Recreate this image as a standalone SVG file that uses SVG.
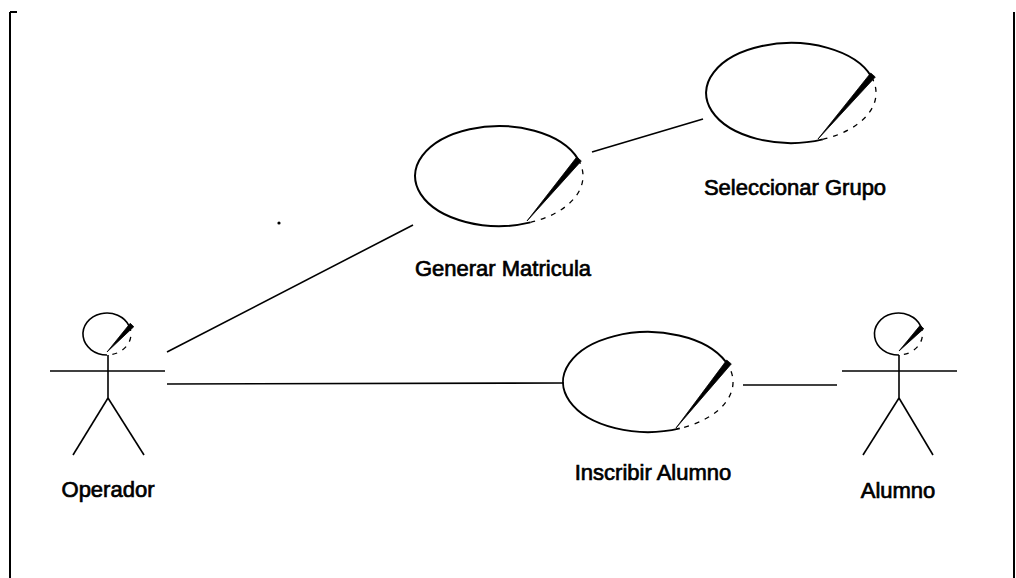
<svg xmlns="http://www.w3.org/2000/svg" width="1016" height="578" viewBox="0 0 1016 578">
<style>
.bg{fill:#ffffff}
.frame{stroke:#000;stroke-width:2;fill:none}
.uc{stroke:#000;stroke-width:2;fill:none}
.dash{stroke:#000;stroke-width:1.3;fill:none;stroke-dasharray:5 6}
.stick{stroke:#000;stroke-width:1.6;fill:none}
.slash{fill:#000;stroke:#000;stroke-width:0.8;stroke-linejoin:round}
.conn{stroke:#000;stroke-width:1.6;fill:none}
.lbl{font-family:"Liberation Sans",Arial,sans-serif;font-size:22px;fill:#000;stroke:#000;stroke-width:0.7;text-anchor:middle}
</style>
<rect class="bg" x="0" y="0" width="1016" height="578"/>
<g id="frame">
<line class="frame" x1="10" y1="12" x2="10" y2="578"/>
<line class="frame" x1="10" y1="12" x2="17" y2="12"/>
<line class="frame" x1="1014" y1="12" x2="1014" y2="578"/>
<circle cx="279" cy="223" r="1.6" fill="#000"/>
</g>
<g id="connectors">
<line class="conn" x1="167" y1="352" x2="413" y2="225"/>
<line class="conn" x1="592" y1="152" x2="703" y2="119"/>
<line class="conn" x1="167" y1="384" x2="564" y2="383"/>
<line class="conn" x1="743" y1="385" x2="837" y2="385"/>
</g>
<g id="uc-generar">
<path class="uc" d="M530.5,222.4 A84,50 0 1 1 578.1,159.2"/>
<path class="dash" d="M578.1,159.2 A84,50 0 0 1 530.5,222.4"/>
<polygon class="slash" points="527,221 576.7,157.1 581.3,160.9"/>
<text class="lbl" x="503" y="276">Generar Matricula</text>
</g>
<g id="uc-seleccionar">
<path class="uc" d="M822.8,139.4 A85,50 0 1 1 871.4,76.7"/>
<path class="dash" d="M871.4,76.7 A85,50 0 0 1 822.8,139.4"/>
<polygon class="slash" points="818,139 870.7,73 875.3,77"/>
<text class="lbl" x="795" y="195">Seleccionar Grupo</text>
</g>
<g id="uc-inscribir">
<path class="uc" d="M679.8,428.4 A85,50 0 1 1 725.7,361.7"/>
<path class="dash" d="M725.7,361.7 A85,50 0 0 1 679.8,428.4"/>
<polygon class="slash" points="676,428 726.7,360.1 731.3,363.9"/>
<text class="lbl" x="653" y="480">Inscribir Alumno</text>
</g>
<g id="actor-operador">
<path class="stick" d="M107,355 A24,21 0 1 1 129.2,326.1"/>
<path class="dash" stroke-dasharray="2 6" d="M129.2,326.1 A24,21 0 0 1 107,355"/>
<polygon class="slash" points="107,352 130.2,323.3 133.8,326.7"/>
<line class="stick" x1="108" y1="355" x2="108" y2="398"/>
<line class="stick" x1="50" y1="371" x2="165" y2="371"/>
<line class="stick" x1="108" y1="398" x2="73" y2="455"/>
<line class="stick" x1="108" y1="398" x2="144" y2="455"/>
<text class="lbl" x="108" y="497">Operador</text>
</g>
<g id="actor-alumno">
<path class="stick" d="M899,355 A24,21 0 1 1 920.7,326.1"/>
<path class="dash" stroke-dasharray="2 6" d="M920.7,326.1 A24,21 0 0 1 899,355"/>
<polygon class="slash" points="899,351 920.2,325.3 923.8,328.7"/>
<line class="stick" x1="899" y1="355" x2="899" y2="398"/>
<line class="stick" x1="842" y1="371" x2="957" y2="371"/>
<line class="stick" x1="899" y1="398" x2="863" y2="455"/>
<line class="stick" x1="899" y1="398" x2="933" y2="455"/>
<text class="lbl" x="898" y="498">Alumno</text>
</g>
</svg>
